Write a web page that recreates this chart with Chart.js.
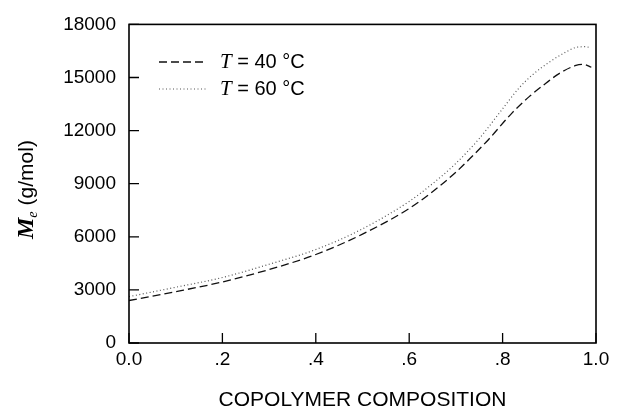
<!DOCTYPE html>
<html>
<head>
<meta charset="utf-8">
<script src="https://cdn.jsdelivr.net/npm/chart.js@4.4.0/dist/chart.umd.min.js"></script>
<style>
  html, body { margin: 0; padding: 0; background: #fff; }
  canvas { display: block; }
</style>
</head>
<body>
<canvas id="grafico" width="619" height="413"></canvas>
<script>
// Dados: composição do copolímero (x) e Me em g/mol (y)
const composicao40 = [0, 0.1, 0.2, 0.3, 0.4, 0.5, 0.6, 0.65, 0.7, 0.735, 0.77, 0.82, 0.857, 0.892, 0.921, 0.957, 0.974, 0.99];
const me40 = [2400, 2900, 3450, 4150, 5000, 6150, 7600, 8550, 9650, 10550, 11500, 12990, 13920, 14660, 15220, 15680, 15740, 15580];

const composicao60 = [0, 0.1, 0.2, 0.3, 0.4, 0.5, 0.6, 0.65, 0.7, 0.75, 0.793, 0.835, 0.864, 0.9, 0.935, 0.957, 0.978, 0.988];
const me60 = [2620, 3150, 3700, 4450, 5280, 6450, 8000, 9000, 10150, 11550, 12990, 14400, 15150, 15870, 16430, 16700, 16740, 16680];

const rotulosX = ['0.0', '.2', '.4', '.6', '.8', '1.0'];
const rotulosY = ['0', '3000', '6000', '9000', '12000', '15000', '18000'];
const legendas = ['40', '60'];

const fonte = "'Liberation Sans', Arial, sans-serif";
const fonteSerif = "'Liberation Serif', 'Times New Roman', serif";

function montarPontos(xs, ys) {
    return xs.map((x, i) => ({ x: x, y: ys[i] }));
}

//Plugin que desenha a moldura, os ticks para dentro, o título do eixo y e a legenda
const molduraPlugin = {
    id: 'moldura',
    afterDraw(chart) {
        const { ctx, chartArea: a, scales } = chart;
        ctx.save();
        ctx.strokeStyle = '#000';
        ctx.lineWidth = 1.6;
        ctx.strokeRect(a.left, a.top, a.right - a.left, a.bottom - a.top);

        ctx.lineWidth = 1.3;
        ctx.beginPath();
        scales.x.ticks.forEach(t => {
            const px = scales.x.getPixelForValue(t.value);
            ctx.moveTo(px, a.bottom);
            ctx.lineTo(px, a.bottom - 10);
        });
        scales.y.ticks.forEach(t => {
            const py = scales.y.getPixelForValue(t.value);
            ctx.moveTo(a.left, py);
            ctx.lineTo(a.left + 10, py);
        });
        ctx.stroke();

        // título do eixo y: M_e (g/mol)
        ctx.fillStyle = '#000';
        ctx.translate(27, 239);
        ctx.rotate(-Math.PI / 2);
        ctx.textBaseline = 'middle';
        ctx.textAlign = 'left';
        let pos = 0;
        ctx.font = "bold italic 24px " + fonteSerif;
        ctx.fillText('M', pos, 0);
        pos += ctx.measureText('M').width;
        ctx.font = "italic 14px " + fonteSerif;
        ctx.fillText('e', pos, 6);
        pos += ctx.measureText('e').width + 6;
        ctx.font = "21px " + fonte;
        ctx.fillText('(g/mol)', pos, 0);
        ctx.restore();

        // legenda
        ctx.save();
        const linhasY = [62, 89];
        chart.data.datasets.forEach((ds, i) => {
            const y = linhasY[i];
            ctx.strokeStyle = ds.borderColor;
            ctx.lineWidth = ds.borderWidth;
            ctx.setLineDash(ds.borderDash);
            ctx.beginPath();
            ctx.moveTo(159, y);
            ctx.lineTo(207, y);
            ctx.stroke();
            ctx.setLineDash([]);
            ctx.fillStyle = '#000';
            ctx.textBaseline = 'middle';
            ctx.textAlign = 'left';
            let x = 220;
            ctx.font = "italic 21px " + fonteSerif;
            ctx.fillText('T', x, y);
            x += ctx.measureText('T').width;
            ctx.font = "20px " + fonte;
            const resto = ' = ' + legendas[i] + ' °C';
            ctx.fillText(resto, x, y);
        });
        ctx.restore();
    }
};

function criarGrafico(id) {
    return new Chart(id, {
        type: 'line',
        data: {
            datasets: [{
                label: 'T = 40 °C',
                data: montarPontos(composicao40, me40),
                borderColor: '#111',
                borderWidth: 1.3,
                borderDash: [8, 4],
                pointRadius: 0,
                fill: false,
                cubicInterpolationMode: 'monotone'
            }, {
                label: 'T = 60 °C',
                data: montarPontos(composicao60, me60),
                borderColor: '#555',
                borderWidth: 1.2,
                borderDash: [1, 2.5],
                pointRadius: 0,
                fill: false,
                cubicInterpolationMode: 'monotone'
            }]
        },
        options: {
            responsive: false,
            animation: false,
            layout: { padding: { top: 20, right: 23, left: 0, bottom: 0 } },
            scales: {
                x: {
                    type: 'linear',
                    min: 0,
                    max: 1,
                    grid: { display: false, drawTicks: false },
                    border: { display: false },
                    ticks: {
                        stepSize: 0.2,
                        autoSkip: false,
                        maxRotation: 0,
                        padding: 5,
                        color: '#000',
                        font: { family: fonte, size: 19 },
                        callback: (v, i) => rotulosX[i]
                    },
                    title: {
                        display: true,
                        text: 'COPOLYMER COMPOSITION',
                        color: '#000',
                        font: { family: fonte, size: 21 },
                        padding: { top: 0, bottom: 0 }
                    },
                    afterFit: (s) => { s.height = 70; }
                },
                y: {
                    min: 0,
                    max: 18000,
                    grid: { display: false, drawTicks: false },
                    border: { display: false },
                    ticks: {
                        stepSize: 3000,
                        padding: 13,
                        color: '#000',
                        font: { family: fonte, size: 19 },
                        callback: (v, i) => rotulosY[i]
                    },
                    afterFit: (s) => { s.width = 129; }
                }
            },
            plugins: {
                legend: { display: false },
                tooltip: { enabled: false }
            }
        },
        plugins: [molduraPlugin]
    });
}

criarGrafico(document.getElementById('grafico'));
</script>
</body>
</html>
